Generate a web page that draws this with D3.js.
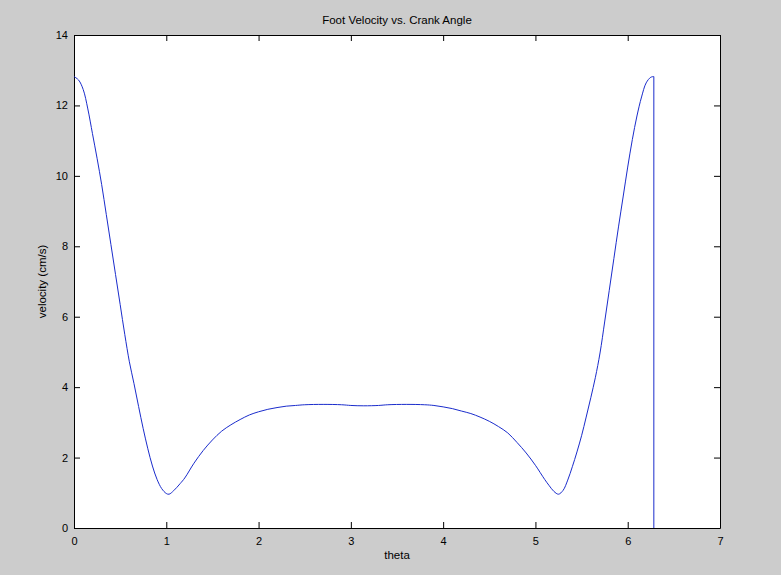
<!DOCTYPE html>
<html>
<head>
<meta charset="utf-8">
<script src="https://cdn.jsdelivr.net/npm/d3@7"></script>
<style>
  html, body { margin: 0; padding: 0; background: #cccccc; }
  svg { display: block; }
  text { font-family: "Liberation Sans", Arial, Helvetica, sans-serif; fill: #000; }
</style>
</head>
<body>
<svg id="chart" width="781" height="575"></svg>
<script>
const title = "Foot Velocity vs. Crank Angle";
const xLabel = "theta";
const yLabel = "velocity (cm/s)";
const xTicks = [0, 1, 2, 3, 4, 5, 6, 7];
const yTicks = [0, 2, 4, 6, 8, 10, 12, 14];

const theta = [0, 0.05, 0.1, 0.15, 0.2, 0.25, 0.3, 0.35, 0.4, 0.45, 0.5, 0.55, 0.6, 0.65, 0.7, 0.75, 0.8, 0.85, 0.9, 0.95, 1.0, 1.03, 1.08, 1.15, 1.2, 1.3, 1.4, 1.5, 1.6, 1.7, 1.8, 1.9, 2.0, 2.1, 2.2, 2.3, 2.4, 2.5, 2.7, 2.9, 3.0, 3.14, 3.3, 3.4, 3.6, 3.8, 3.9, 4.0, 4.1, 4.2, 4.3, 4.4, 4.5, 4.6, 4.7, 4.8, 4.9, 5.0, 5.1, 5.15, 5.2, 5.25, 5.3, 5.35, 5.4, 5.45, 5.5, 5.55, 5.6, 5.65, 5.7, 5.75, 5.8, 5.85, 5.9, 5.95, 6.0, 6.05, 6.1, 6.15, 6.2, 6.25, 6.283, 6.283];
const velocity = [12.82, 12.72, 12.45, 11.9, 11.2, 10.5, 9.75, 8.9, 8.05, 7.2, 6.35, 5.5, 4.72, 4.1, 3.45, 2.82, 2.25, 1.76, 1.38, 1.12, 0.98, 0.96, 1.06, 1.26, 1.42, 1.84, 2.2, 2.5, 2.75, 2.93, 3.08, 3.21, 3.3, 3.37, 3.42, 3.46, 3.48, 3.5, 3.51, 3.5, 3.48, 3.47, 3.48, 3.5, 3.51, 3.5, 3.48, 3.44, 3.39, 3.32, 3.25, 3.15, 3.03, 2.88, 2.7, 2.43, 2.13, 1.78, 1.38, 1.2, 1.04, 0.96, 1.07, 1.36, 1.74, 2.16, 2.62, 3.15, 3.7, 4.28, 4.97, 5.85, 6.75, 7.65, 8.55, 9.4, 10.25, 11.03, 11.7, 12.24, 12.64, 12.8, 12.82, 0];

const svg = d3.select("#chart");
const L = 74, R = 720, T = 35, B = 528;
const x = d3.scaleLinear().domain([0, 7]).range([L, R]);
const y = d3.scaleLinear().domain([0, 14]).range([B, T]);

svg.append("rect").attr("x", L).attr("y", T).attr("width", R - L).attr("height", B - T).attr("fill", "#fff");

const tickLen = 6;
const fmt = d3.format("d");
const gB = svg.append("g").attr("transform", `translate(0,${B})`)
  .call(d3.axisBottom(x).tickValues(xTicks).tickSizeInner(-tickLen).tickSizeOuter(0).tickPadding(9).tickFormat(fmt));
const gT = svg.append("g").attr("transform", `translate(0,${T})`)
  .call(d3.axisTop(x).tickValues(xTicks).tickSizeInner(-tickLen).tickSizeOuter(0).tickFormat(""));
const gL = svg.append("g").attr("transform", `translate(${L},0)`)
  .call(d3.axisLeft(y).tickValues(yTicks).tickSizeInner(-tickLen).tickSizeOuter(0).tickPadding(6).tickFormat(fmt));
const gR = svg.append("g").attr("transform", `translate(${R},0)`)
  .call(d3.axisRight(y).tickValues(yTicks).tickSizeInner(-tickLen).tickSizeOuter(0).tickFormat(""));
[gB, gT, gL, gR].forEach(g => {
  g.selectAll("path.domain").attr("stroke", "#000").attr("stroke-width", 1);
  g.selectAll(".tick line").attr("stroke", "#000");
  g.selectAll(".tick text").attr("font-size", 11).attr("font-family", "Liberation Sans, Arial, sans-serif").attr("fill", "#000");
});

const pts = theta.map((t, i) => [t, velocity[i]]);
const smoothPart = pts.slice(0, pts.length - 1);
const dropPart = pts.slice(pts.length - 2);
const lineSmooth = d3.line().x(d => x(d[0])).y(d => y(d[1])).curve(d3.curveCatmullRom.alpha(0.5));
const lineStraight = d3.line().x(d => x(d[0])).y(d => y(d[1])).curve(d3.curveLinear);
svg.append("path")
  .attr("fill", "none")
  .attr("stroke", "#1a2ccc")
  .attr("stroke-width", 1)
  .attr("d", lineSmooth(smoothPart) + lineStraight(dropPart).replace(/^M/, "L"));

svg.append("text").attr("x", (L + R) / 2).attr("y", 24).attr("text-anchor", "middle").attr("font-size", 11.5).text(title);
svg.append("text").attr("x", (L + R) / 2).attr("y", 559).attr("text-anchor", "middle").attr("font-size", 11.5).text(xLabel);
svg.append("text").attr("transform", `translate(46,${(T + B) / 2}) rotate(-90)`).attr("text-anchor", "middle").attr("font-size", 11.5).text(yLabel);
</script>
</body>
</html>
